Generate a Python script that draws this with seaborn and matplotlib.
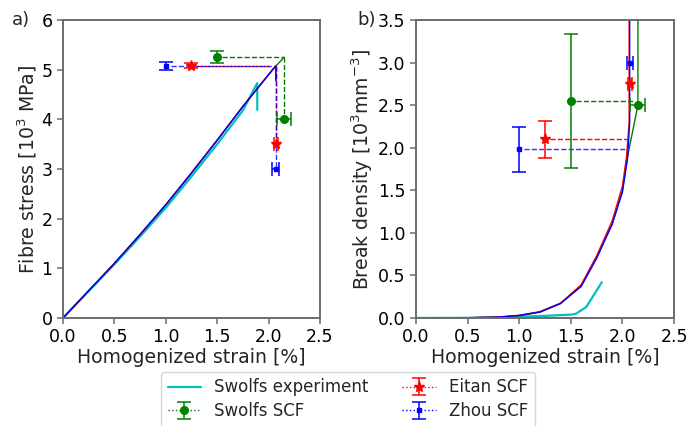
import numpy as np
import pandas as pd
import matplotlib
matplotlib.use("Agg")
import matplotlib.pyplot as plt
import seaborn as sns
from matplotlib.lines import Line2D

# ---------------- data ----------------
# Panel a: fibre stress [10^3 MPa] vs homogenized strain [%]
strain_model = [0, 0.25, 0.5, 0.75, 1.0, 1.25, 1.5, 1.75, 2.0, 2.07, 2.07]
stress_eitan = [0, 0.55, 1.10, 1.68, 2.28, 2.92, 3.58, 4.26, 4.90, 5.08, 4.78]
stress_zhou = [0, 0.55, 1.10, 1.68, 2.28, 2.92, 3.58, 4.26, 4.90, 5.08, 4.78]
strain_swolfs_model = [0, 0.25, 0.5, 0.75, 1.0, 1.25, 1.5, 1.75, 2.0, 2.07, 2.15]
stress_swolfs_model = [0, 0.55, 1.10, 1.68, 2.28, 2.92, 3.58, 4.26, 4.90, 5.07, 5.25]
strain_exp = [0, 0.25, 0.5, 0.75, 1.0, 1.25, 1.5, 1.75, 1.89, 1.89]
stress_exp = [0, 0.54, 1.08, 1.64, 2.22, 2.85, 3.50, 4.18, 4.73, 4.19]

# Panel b: break density [10^3 mm^-3] vs homogenized strain [%]
bd_strain_eitan = [0, 0.5, 0.8, 1.0, 1.2, 1.4, 1.6, 1.75, 1.9, 2.0, 2.04, 2.065, 2.065]
bd_eitan = [0, 0.003, 0.012, 0.032, 0.075, 0.175, 0.39, 0.73, 1.14, 1.55, 1.90, 2.30, 4.0]
bd_strain_zhou = [0, 0.5, 0.8, 1.0, 1.2, 1.4, 1.6, 1.75, 1.9, 2.0, 2.05, 2.07, 2.07]
bd_zhou = [0, 0.003, 0.010, 0.030, 0.070, 0.170, 0.37, 0.70, 1.10, 1.48, 1.88, 2.30, 4.0]
bd_strain_swolfs = [0, 0.5, 0.8, 1.0, 1.2, 1.4, 1.6, 1.75, 1.9, 2.0, 2.05, 2.15, 2.15]
bd_swolfs = [0, 0.003, 0.010, 0.028, 0.068, 0.17, 0.38, 0.72, 1.10, 1.50, 1.90, 2.50, 4.0]
bd_strain_exp = [0, 0.5, 1.0, 1.25, 1.5, 1.55, 1.65, 1.8]
bd_exp = [0, 0.002, 0.015, 0.025, 0.04, 0.05, 0.13, 0.42]

# SCF summary points: (x, y, error)
a_swolfs_strength = (1.5, 5.25, 0.12)
a_swolfs_strain = (2.15, 4.0, 0.07)
a_eitan_strength = (1.25, 5.08, 0.05)
a_eitan_strain = (2.07, 3.5, 0.02)
a_zhou_strength = (1.0, 5.08, 0.08)
a_zhou_strain = (2.07, 3.0, 0.035)
b_swolfs_density = (1.5, 2.55, 0.79)
b_swolfs_strain = (2.15, 2.5, 0.073)
b_eitan_density = (1.25, 2.10, 0.215)
b_eitan_strain = (2.07, 2.75, 0.02)
b_zhou_density = (1.0, 1.98, 0.265)
b_zhou_strain = (2.07, 3.0, 0.03)

labels = ["Swolfs experiment", "Swolfs SCF", "Eitan SCF", "Zhou SCF"]

# ---------------- style ----------------
sns.set_style("ticks")
plt.rcParams["font.family"] = ["DejaVu Sans"]
plt.rcParams.update({
    "font.size": 12.5,
    "axes.edgecolor": "0.42",
    "axes.linewidth": 1.4,
    "xtick.color": "0.42",
    "ytick.color": "0.42",
    "xtick.labelcolor": "black",
    "ytick.labelcolor": "black",
    "xtick.major.size": 4.5,
    "ytick.major.size": 4.5,
    "xtick.major.width": 1.1,
    "ytick.major.width": 1.1,
    "xtick.major.pad": 3,
    "ytick.major.pad": 3,
    "xtick.labelsize": 12.5,
    "ytick.labelsize": 12.5,
    "axes.labelsize": 13.6,
})

fig = plt.figure(figsize=(6.89, 4.26), dpi=100)
ax1 = fig.add_axes([0.0914, 0.2535, 0.373, 0.6995])
ax2 = fig.add_axes([0.6038, 0.2535, 0.3745, 0.6995])

C_EXP, C_SW, C_EI, C_ZH = "c", "g", "r", "b"

def line(ax, x, y, color, lw):
    sns.lineplot(x=x, y=y, sort=False, estimator=None, color=color,
                 linewidth=lw, ax=ax, legend=False)

def scf(ax, strength, strain, color, marker, ms, label=None):
    h = ax.errorbar(strength[0], strength[1], yerr=strength[2], fmt=marker, ls=":",
                    lw=1.0, color=color, ms=ms, capsize=5, elinewidth=1.1,
                    capthick=1.1, label=label, zorder=4)
    ax.errorbar(strain[0], strain[1], xerr=strain[2], fmt=marker, color=color,
                ms=ms, capsize=5, elinewidth=1.1, capthick=1.1, zorder=4)
    return h

# ---------- panel a ----------
line(ax1, strain_exp, stress_exp, C_EXP, 1.6)
line(ax1, strain_swolfs_model, stress_swolfs_model, C_SW, 1.0)
line(ax1, strain_model, stress_eitan, C_EI, 1.0)
line(ax1, strain_model, stress_zhou, C_ZH, 1.0)

ax1.plot([a_swolfs_strength[0] + 0.05, a_swolfs_strain[0]], [a_swolfs_strength[1]] * 2,
         ls="--", color=C_SW, lw=1.0)
ax1.plot([a_swolfs_strain[0]] * 2, [a_swolfs_strength[1], a_swolfs_strain[1] + 0.05],
         ls="--", color=C_SW, lw=1.0)
ax1.plot([a_eitan_strength[0] + 0.05, 2.02], [a_eitan_strength[1]] * 2,
         ls="--", color=C_EI, lw=1.0)
ax1.plot([a_eitan_strain[0]] * 2, [a_eitan_strength[1], a_eitan_strain[1]],
         ls="--", color=C_EI, lw=1.0)
ax1.plot([a_zhou_strength[0] + 0.05, 2.02], [a_zhou_strength[1]] * 2,
         ls="--", color=C_ZH, lw=1.0, alpha=0.8)
ax1.plot([a_zhou_strain[0]] * 2, [a_zhou_strength[1], a_zhou_strain[1]],
         ls="--", color=C_ZH, lw=1.0, alpha=0.8)

h_sw = scf(ax1, a_swolfs_strength, a_swolfs_strain, C_SW, "o", 5.5, labels[1])
h_ei = scf(ax1, a_eitan_strength, a_eitan_strain, C_EI, "*", 8, labels[2])
h_zh = scf(ax1, a_zhou_strength, a_zhou_strain, C_ZH, "s", 3.5, labels[3])

ax1.set_xlim(0, 2.5)
ax1.set_ylim(0, 6)
ax1.set_xticks([0, 0.5, 1.0, 1.5, 2.0, 2.5])
ax1.set_yticks(range(0, 7))
ax1.set_xlabel("Homogenized strain [%]", labelpad=1)
ax1.set_ylabel("Fibre stress [10$^3$ MPa]", labelpad=2)

# ---------- panel b ----------
line(ax2, bd_strain_exp, bd_exp, C_EXP, 1.6)
line(ax2, bd_strain_swolfs, bd_swolfs, C_SW, 1.0)
line(ax2, bd_strain_eitan, bd_eitan, C_EI, 1.0)
line(ax2, bd_strain_zhou, bd_zhou, C_ZH, 1.0)

ax2.plot([b_swolfs_density[0] + 0.05, 2.11], [b_swolfs_density[1]] * 2,
         ls="--", color=C_SW, lw=1.0)
ax2.plot([b_eitan_density[0] + 0.05, 2.04], [b_eitan_density[1]] * 2,
         ls="--", color=C_EI, lw=1.0)
ax2.plot([b_zhou_density[0] + 0.05, 2.03], [b_zhou_density[1]] * 2,
         ls="--", color=C_ZH, lw=1.0, alpha=0.8)

scf(ax2, b_swolfs_density, b_swolfs_strain, C_SW, "o", 5.5)
scf(ax2, b_eitan_density, b_eitan_strain, C_EI, "*", 8)
scf(ax2, b_zhou_density, b_zhou_strain, C_ZH, "s", 3.5)

ax2.set_xlim(0, 2.5)
ax2.set_ylim(0, 3.5)
ax2.set_xticks([0, 0.5, 1.0, 1.5, 2.0, 2.5])
ax2.set_yticks(np.arange(0, 3.51, 0.5))
ax2.set_xlabel("Homogenized strain [%]", labelpad=1)
ax2.set_ylabel("Break density [10$^3$mm$^{-3}$]", labelpad=2)

fig.text(0.017, 0.953, "a)", va="center", ha="left", fontsize=13)
fig.text(0.518, 0.953, "b)", va="center", ha="left", fontsize=13)

h_exp = Line2D([], [], color=C_EXP, lw=1.6)
fig.legend([h_exp, h_sw, h_ei, h_zh], labels, ncol=2, loc="upper center",
           bbox_to_anchor=(0.505, 0.135), fontsize=12, frameon=True,
           columnspacing=2.0, handlelength=2.0, labelspacing=0.35,
           borderaxespad=0.2)

fig.savefig("out.png", dpi=100)
